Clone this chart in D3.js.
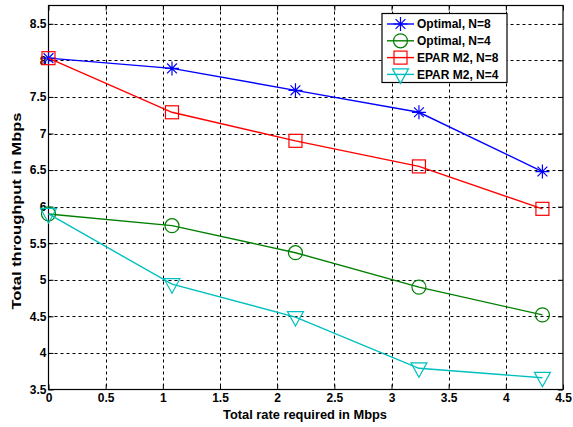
<!DOCTYPE html>
<html><head><meta charset="utf-8">
<script src="https://cdn.jsdelivr.net/npm/d3@7"></script>
<style>body{margin:0;background:#fff}svg text{font-family:"Liberation Sans",Arial,sans-serif;font-weight:bold}</style>
</head><body><div id="chart"></div>
<script>
const rates = [0, 1.08, 2.16, 3.24, 4.32];
const optimalN8 = [8.03, 7.89, 7.59, 7.29, 6.48];
const optimalN4 = [5.90, 5.74, 5.37, 4.90, 4.52];
const eparN8 = [8.03, 7.29, 6.90, 6.55, 5.97];
const eparN4 = [5.90, 4.94, 4.49, 3.79, 3.66];
const xTicks = [0, 0.5, 1, 1.5, 2, 2.5, 3, 3.5, 4, 4.5];
const yTicks = [3.5, 4, 4.5, 5, 5.5, 6, 6.5, 7, 7.5, 8, 8.5];
const seriesNames = ["Optimal, N=8", "Optimal, N=4", "EPAR M2, N=8", "EPAR M2, N=4"];

const series = [
  {name: seriesNames[0], values: optimalN8, color: "#0000ff", marker: "star"},
  {name: seriesNames[1], values: optimalN4, color: "#007f00", marker: "circle"},
  {name: seriesNames[2], values: eparN8, color: "#ff0000", marker: "square"},
  {name: seriesNames[3], values: eparN4, color: "#00bfbf", marker: "triangle"}
];

const W = 573, H = 427;
const m = {left: 48.5, right: 563, top: 5.5, bottom: 389.5};
const x = d3.scaleLinear().domain([0, 4.5]).range([m.left, m.right]);
const y = d3.scaleLinear().domain([3.5, 8.75]).range([m.bottom, m.top]);

const svg = d3.select("#chart").append("svg").attr("width", W).attr("height", H);

// dotted grid
const grid = svg.append("g").attr("stroke", "#000").attr("stroke-width", 1).attr("stroke-dasharray", "3,3");
grid.selectAll(".gx").data(xTicks.slice(1, -1)).join("line")
  .attr("x1", d => Math.round(x(d)) + 0.5).attr("x2", d => Math.round(x(d)) + 0.5)
  .attr("y1", m.top).attr("y2", m.bottom);
grid.selectAll(".gy").data(yTicks.slice(1)).join("line")
  .attr("y1", d => Math.round(y(d)) + 0.5).attr("y2", d => Math.round(y(d)) + 0.5)
  .attr("x1", m.left).attr("x2", m.right);

// axes
const xAxis = svg.append("g").attr("transform", `translate(0,${m.bottom})`)
  .call(d3.axisBottom(x).tickValues(xTicks).tickSize(-5).tickPadding(6).tickFormat(d3.format("")));
const xAxisTop = svg.append("g").attr("transform", `translate(0,${m.top})`)
  .call(d3.axisTop(x).tickValues(xTicks).tickSize(-5).tickFormat(""));
const yAxis = svg.append("g").attr("transform", `translate(${m.left},0)`)
  .call(d3.axisLeft(y).tickValues(yTicks).tickSize(-5).tickPadding(4).tickFormat(d3.format("")));
const yAxisRight = svg.append("g").attr("transform", `translate(${m.right},0)`)
  .call(d3.axisRight(y).tickValues(yTicks).tickSize(-5).tickFormat(""));
[xAxis, xAxisTop, yAxis, yAxisRight].forEach(a => {
  a.select(".domain").remove();
  a.selectAll("line").attr("stroke", "#000");
  a.selectAll("text").attr("font-size", 12).attr("fill", "#000")
    .style("font-family", '"Liberation Sans",Arial,sans-serif').style("font-weight", "bold");
});
xAxis.selectAll("text").attr("dy", "0.55em");
yAxis.selectAll("text").attr("dx", "2");

svg.append("rect").attr("x", m.left).attr("y", m.top)
  .attr("width", m.right - m.left).attr("height", m.bottom - m.top)
  .attr("fill", "none").attr("stroke", "#000").attr("stroke-width", 1.2);

// marker shapes
function drawMarker(g, type, cx, cy, color) {
  const s = g.append("g").attr("transform", `translate(${cx},${cy})`)
    .attr("fill", "none").attr("stroke", color).attr("stroke-width", 1.2);
  if (type === "star") {
    const r = 7;
    s.append("path").attr("d",
      `M${-r},0H${r}M0,${-r}V${r}M${-r*0.7},${-r*0.7}L${r*0.7},${r*0.7}M${-r*0.7},${r*0.7}L${r*0.7},${-r*0.7}`);
  } else if (type === "circle") {
    s.append("circle").attr("r", 7);
  } else if (type === "square") {
    s.append("rect").attr("x", -6.5).attr("y", -6.5).attr("width", 13).attr("height", 13);
  } else if (type === "triangle") {
    s.append("path").attr("d", "M-8,-5.5L8,-5.5L0,9Z");
  }
}

const line = d3.line().x((d, i) => x(rates[i])).y(d => y(d));
series.forEach(s => {
  svg.append("path").datum(s.values).attr("d", line)
    .attr("fill", "none").attr("stroke", s.color).attr("stroke-width", 1.4);
  const g = svg.append("g");
  s.values.forEach((v, i) => drawMarker(g, s.marker, x(rates[i]), y(v), s.color));
});

// axis titles
svg.append("text").attr("x", 305).attr("y", 418.5)
  .attr("text-anchor", "middle").attr("font-size", 13)
  .attr("textLength", 164).attr("lengthAdjust", "spacingAndGlyphs")
  .text("Total rate required in Mbps");
svg.append("text").attr("transform", "translate(21,211) rotate(-90)")
  .attr("text-anchor", "middle").attr("font-size", 13)
  .attr("textLength", 197).attr("lengthAdjust", "spacingAndGlyphs")
  .text("Total throughput in Mbps");

// legend
const lg = svg.append("g").attr("transform", "translate(382,13.5)");
lg.append("rect").attr("width", 125).attr("height", 69)
  .attr("fill", "#fff").attr("stroke", "#000").attr("stroke-width", 1.2);
series.forEach((s, i) => {
  const cy = 10.5 + i * 16.8;
  lg.append("line").attr("x1", 5).attr("x2", 32).attr("y1", cy).attr("y2", cy)
    .attr("stroke", s.color).attr("stroke-width", 1.4);
  drawMarker(lg, s.marker, 18.5, cy, s.color);
  lg.append("text").attr("x", 35).attr("y", cy).attr("dy", "0.36em")
    .attr("font-size", 12).text(s.name);
});
</script></body></html>
